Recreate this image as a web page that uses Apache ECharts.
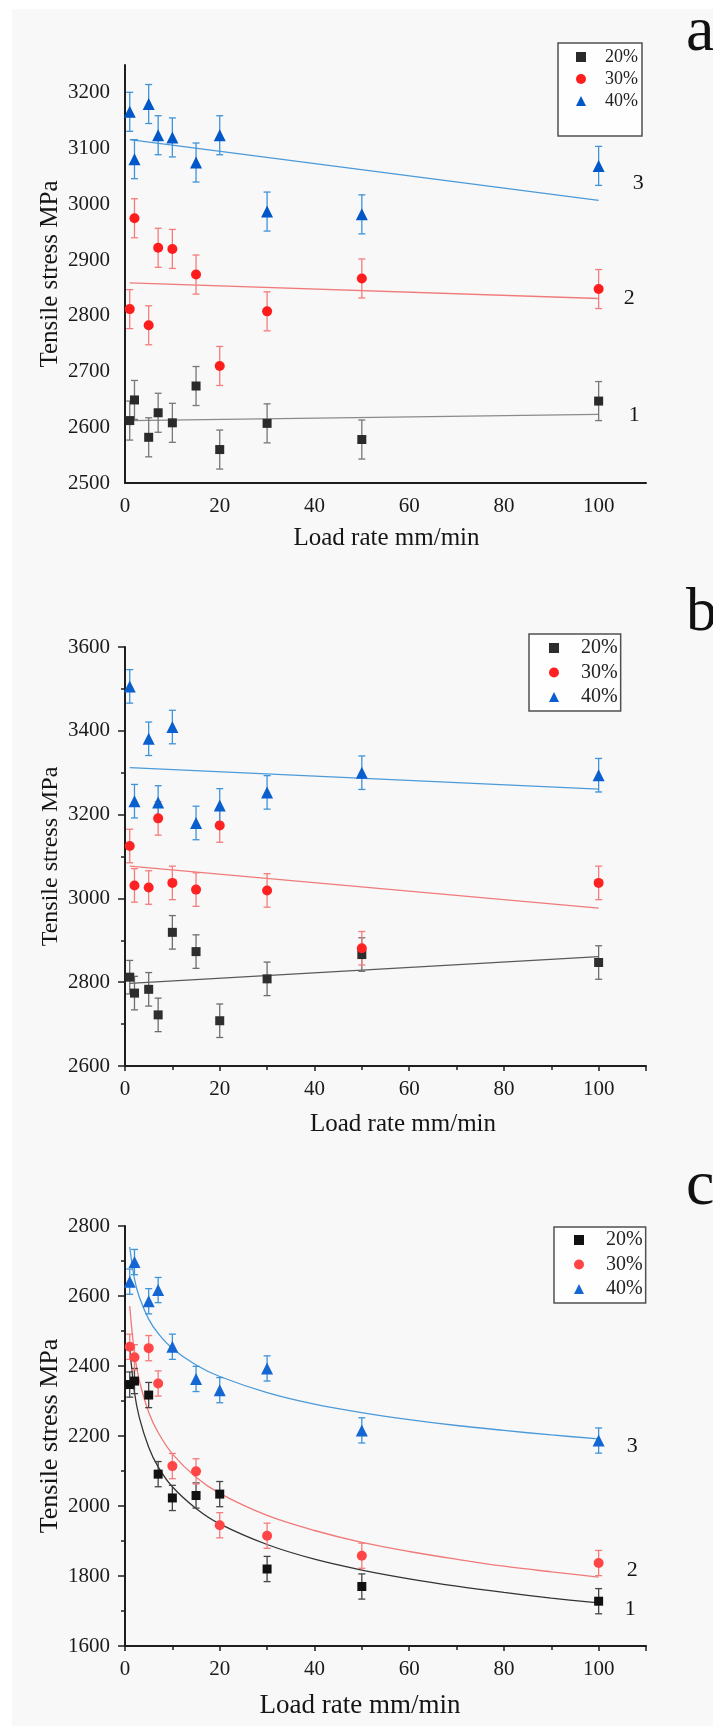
<!DOCTYPE html>
<html>
<head>
    <meta charset="utf-8">
    <title>Tensile stress vs load rate</title>
    <script src="https://cdn.jsdelivr.net/npm/echarts@6/dist/echarts.min.js"></script>
    <style type="text/css">
        body{
            margin: 0;
            background: #ffffff;
        }
        #paper{
            position: absolute;
            left: 12px;
            top: 9px;
            width: 701px;
            height: 1717px;
            background: #f8f8f8;
        }
        #main{
            position: absolute;
            left: 0;
            top: 0;
            width: 713px;
            height: 1726px;
        }
    </style>
</head>
<body>
<div id="paper"></div>
<div id="main"></div>
<script>
    // load rate, mm/min
    var loadRate = [1, 2, 5, 7, 10, 15, 20, 30, 50, 100];

    // panel a
    var a20 = [2612, 2649, 2582, 2626, 2608, 2674, 2560, 2607, 2578, 2647];
    var a30 = [2812, 2975, 2783, 2922, 2920, 2874, 2710, 2808, 2867, 2848];
    var a40 = [3166, 3081, 3180, 3124, 3120, 3075, 3124, 2987, 2982, 3069];
    var aErr = [35, 35, 35, 35, 35, 35, 35, 35, 35, 35];
    var aFitX = [1, 100];
    var aFit20 = [2612, 2623];
    var aFit30 = [2859, 2831];
    var aFit40 = [3116, 3007];

    // panel b
    var b20 = [2812, 2774, 2783, 2722, 2919, 2873, 2708, 2808, 2866, 2847];
    var b30 = [3125, 3031, 3026, 3191, 3037, 3021, 3174, 3019, 2881, 3037];
    var b40 = [3506, 3232, 3381, 3229, 3409, 3180, 3222, 3253, 3300, 3294];
    var bErr = [40, 40, 40, 40, 40, 40, 40, 40, 40, 40];
    var bFitX = [1, 100];
    var bFit20 = [2797, 2861];
    var bFit30 = [3077, 2977];
    var bFit40 = [3312, 3261];

    // panel c
    var c20 = [2347, 2357, 2317, 2091, 2023, 2030, 2034, 1820, 1770, 1728];
    var c30 = [2455, 2425, 2451, 2350, 2114, 2099, 1945, 1915, 1858, 1837];
    var c40 = [2641, 2697, 2585, 2617, 2455, 2363, 2331, 2393, 2216, 2187];
    var cErr = [36, 36, 36, 36, 36, 36, 36, 36, 36, 36];
    var cFitX = [1, 2, 3, 5, 7, 10, 15, 20, 30, 40, 50, 60, 70, 80, 90, 100];
    var cFit20 = [2452, 2325, 2254, 2168, 2112, 2055, 1993, 1949, 1890, 1848, 1817, 1792, 1771, 1753, 1737, 1723];
    var cFit30 = [2571, 2436, 2360, 2268, 2210, 2149, 2082, 2036, 1973, 1930, 1896, 1870, 1848, 1828, 1812, 1797];
    var cFit40 = [2740, 2649, 2598, 2534, 2493, 2450, 2403, 2370, 2324, 2291, 2267, 2247, 2230, 2216, 2203, 2192];

    var names = ['20%', '30%', '40%'];

    var serif = '"Liberation Serif", "DejaVu Serif", serif';

    function pairs(xs, ys) {
        return xs.map(function (x, i) { return [x, ys[i]]; });
    }

    function plain(v) {
        return String(v);
    }

    function scatter(name, ys, symbol, size, color, idx) {
        return {
            type: 'scatter', name: name, xAxisIndex: idx, yAxisIndex: idx,
            data: pairs(loadRate, ys), symbol: symbol, symbolSize: size,
            itemStyle: {color: color, opacity: 1}, z: 4, silent: true
        };
    }

    function errorBars(ys, errs, color, idx) {
        return {
            type: 'custom', xAxisIndex: idx, yAxisIndex: idx, z: 3, silent: true,
            data: loadRate.map(function (x, i) { return [x, ys[i] - errs[i], ys[i] + errs[i]]; }),
            encode: {x: 0, y: [1, 2]},
            renderItem: function (params, api) {
                var lo = api.coord([api.value(0), api.value(1)]);
                var hi = api.coord([api.value(0), api.value(2)]);
                var w = 3.5;
                var st = {stroke: color, lineWidth: 1.3};
                return {
                    type: 'group', children: [
                        {type: 'line', shape: {x1: lo[0], y1: lo[1], x2: hi[0], y2: hi[1]}, style: st},
                        {type: 'line', shape: {x1: lo[0] - w, y1: lo[1], x2: lo[0] + w, y2: lo[1]}, style: st},
                        {type: 'line', shape: {x1: hi[0] - w, y1: hi[1], x2: hi[0] + w, y2: hi[1]}, style: st}
                    ]
                };
            }
        };
    }

    function fitLine(xs, ys, color, idx, smooth, tag, offset) {
        var s = {
            type: 'line', xAxisIndex: idx, yAxisIndex: idx, data: pairs(xs, ys),
            symbol: 'none', smooth: smooth, z: 2, silent: true,
            lineStyle: {color: color, width: 1.3}
        };
        if (tag) {
            s.endLabel = {
                show: true, formatter: tag, offset: offset,
                fontSize: 22, fontFamily: serif, color: '#151515'
            };
        }
        return s;
    }

    function xAxis(idx, namePad, nameSize, ticks) {
        return {
            type: 'value', gridIndex: idx, min: 0, max: 110, interval: 20,
            name: 'Load rate mm/min', nameLocation: 'middle',
            nameGap: idx === 0 ? 43 : 46, nameMoveOverlap: false,
            nameTextStyle: {fontSize: nameSize, fontFamily: serif, color: '#151515', padding: namePad},
            axisLine: {lineStyle: {color: '#1e1e1e', width: 2}},
            axisTick: {show: ticks, length: 5, lineStyle: {color: '#1e1e1e', width: 1.5}},
            minorTick: {show: ticks, splitNumber: 2, length: 4, lineStyle: {color: '#1e1e1e', width: 1.5}},
            splitLine: {show: false},
            axisLabel: {fontSize: 21, fontFamily: serif, color: '#1a1a1a', margin: 13,
                showMaxLabel: false, formatter: plain}
        };
    }

    function yAxis(idx, min, max, step, nameSize, ticks) {
        return {
            type: 'value', gridIndex: idx, min: min, max: max, interval: step,
            name: 'Tensile stress MPa', nameLocation: 'middle', nameRotate: 90,
            nameGap: 62, nameMoveOverlap: false,
            nameTextStyle: {fontSize: nameSize, fontFamily: serif, color: '#151515'},
            axisLine: {show: true, lineStyle: {color: '#1e1e1e', width: 2}},
            axisTick: {show: ticks, length: 7, lineStyle: {color: '#1e1e1e', width: 1.5}},
            minorTick: {show: ticks, splitNumber: 2, length: 4, lineStyle: {color: '#1e1e1e', width: 1.5}},
            splitLine: {show: false},
            axisLabel: {fontSize: 21, fontFamily: serif, color: '#1a1a1a', margin: 15,
                showMaxLabel: max % step === 0, formatter: plain}
        };
    }

    function legend(left, top, pad, gap, size, textPad, colors) {
        return {
            left: left, top: top, orient: 'vertical', selectedMode: false,
            padding: pad, itemGap: gap, itemWidth: 10, itemHeight: 10,
            borderColor: '#505050', borderWidth: 1.5, borderRadius: 0,
            backgroundColor: '#fefefe',
            textStyle: {fontSize: size, fontFamily: serif, color: '#222', padding: [0, 0, 0, textPad]},
            data: [
                {name: names[0], icon: 'rect', itemStyle: {color: colors[0]}},
                {name: names[1], icon: 'circle', itemStyle: {color: colors[1]}},
                {name: names[2], icon: 'triangle', itemStyle: {color: colors[2]}}
            ]
        };
    }

    var myChart = echarts.init(document.getElementById('main'), null, {renderer: 'canvas'});

    var option = {
        animation: false,
        grid: [
            {left: 125, top: 65, width: 521, height: 418},
            {left: 125, top: 647, width: 521, height: 419},
            {left: 125, top: 1226, width: 521, height: 420}
        ],
        xAxis: [
            xAxis(0, [0, 0, 0, 2], 25, false),
            xAxis(1, [0, 0, 0, 35], 25, true),
            xAxis(2, [0, 51, 0, 0], 27, true)
        ],
        yAxis: [
            yAxis(0, 2500, 3250, 100, 25, false),
            yAxis(1, 2600, 3600, 200, 24, true),
            yAxis(2, 1600, 2800, 200, 26, true)
        ],
        legend: [
            legend(558, 43, [5, 4, 26, 18], 4, 18, 14, ['#2a2a2a', '#ff1c1c', '#0057c8']),
            legend(529, 634, [4, 3, 4, 20], 4.5, 20, 17, ['#2e2e2e', '#ff2222', '#0a5fcf']),
            legend(554, 1227, [3, 3, 4, 20], 4.5, 20, 17, ['#111111', '#ff4545', '#1467d2'])
        ],
        graphic: [
            {type: 'text', style: {text: 'a', x: 686, y: 33, verticalAlign: 'middle', font: '64px ' + serif, fill: '#111'}},
            {type: 'text', style: {text: 'b', x: 686, y: 614, verticalAlign: 'middle', font: '62px ' + serif, fill: '#111'}},
            {type: 'text', style: {text: 'c', x: 686, y: 1187, verticalAlign: 'middle', font: '64px ' + serif, fill: '#111'}}
        ],
        series: [
            // a
            fitLine(aFitX, aFit20, '#8a8a8a', 0, false, '1', [22, 1]),
            fitLine(aFitX, aFit30, '#f07a7a', 0, false, '2', [17, 0]),
            fitLine(aFitX, aFit40, '#4b9ad9', 0, false, '3', [26, -17]),
            errorBars(a20, aErr, '#777777', 0),
            errorBars(a30, aErr, '#f47c7c', 0),
            errorBars(a40, aErr, '#3f93d8', 0),
            scatter(names[0], a20, 'rect', 9, '#2a2a2a', 0),
            scatter(names[1], a30, 'circle', 10, '#ff1c1c', 0),
            scatter(names[2], a40, 'triangle', 12, '#0057c8', 0),
            // b
            fitLine(bFitX, bFit20, '#5a5a5a', 1, false),
            fitLine(bFitX, bFit30, '#f07a7a', 1, false),
            fitLine(bFitX, bFit40, '#4b9ad9', 1, false),
            errorBars(b20, bErr, '#6e6e6e', 1),
            errorBars(b30, bErr, '#f47c7c', 1),
            errorBars(b40, bErr, '#3f93d8', 1),
            scatter(names[0], b20, 'rect', 9, '#2e2e2e', 1),
            scatter(names[1], b30, 'circle', 10, '#ff2222', 1),
            scatter(names[2], b40, 'triangle', 12, '#0a5fcf', 1),
            // c
            fitLine(cFitX, cFit20, '#333333', 2, 0.35, '1', [18, 6]),
            fitLine(cFitX, cFit30, '#f07a7a', 2, 0.35, '2', [20, -7]),
            fitLine(cFitX, cFit40, '#4b9ad9', 2, 0.35, '3', [20, 7]),
            errorBars(c20, cErr, '#444444', 2),
            errorBars(c30, cErr, '#f47c7c', 2),
            errorBars(c40, cErr, '#3f93d8', 2),
            scatter(names[0], c20, 'rect', 9, '#111111', 2),
            scatter(names[1], c30, 'circle', 10, '#ff4545', 2),
            scatter(names[2], c40, 'triangle', 12, '#1467d2', 2)
        ]
    };
    myChart.setOption(option);
</script>
</body>
</html>
